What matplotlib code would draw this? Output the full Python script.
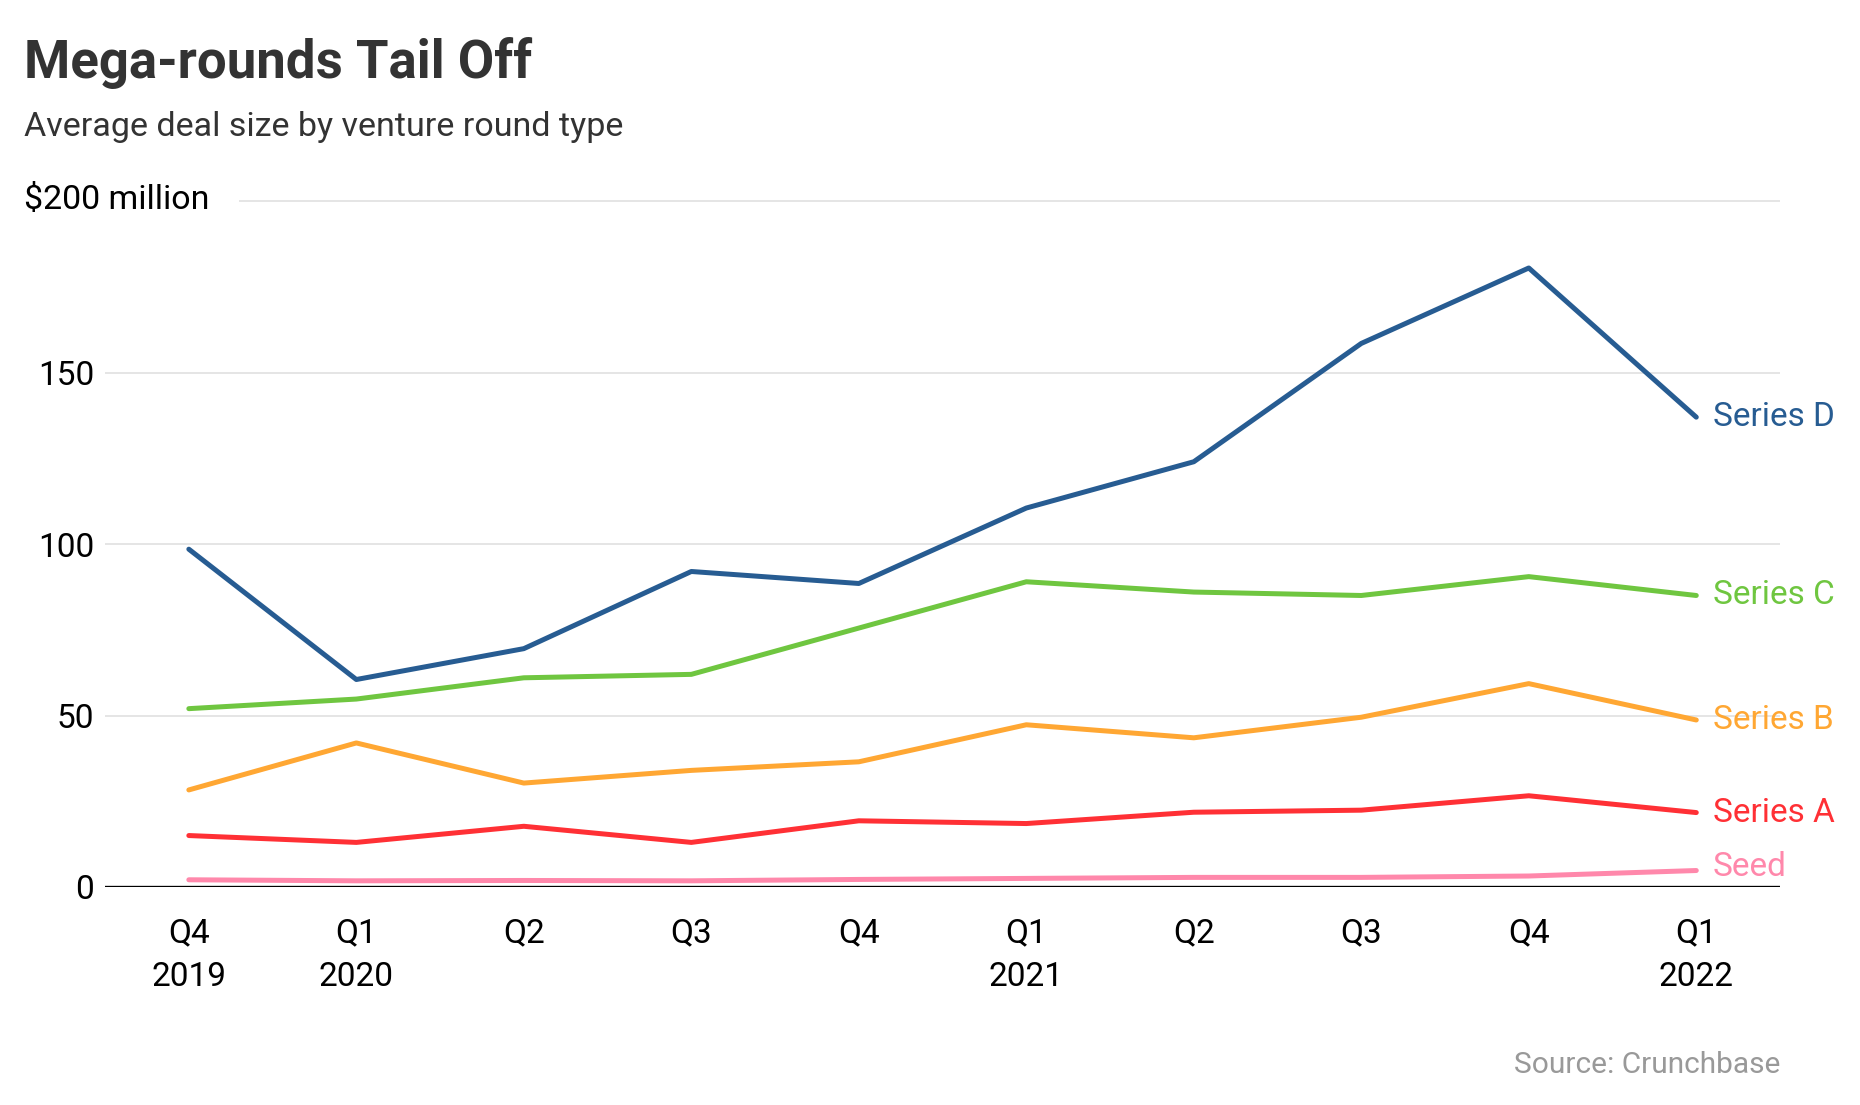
import matplotlib.pyplot as plt

plt.rcParams['font.family'] = ['Roboto', 'DejaVu Sans']

quarters = ["Q4\n2019", "Q1\n2020", "Q2", "Q3", "Q4", "Q1\n2021", "Q2", "Q3", "Q4", "Q1\n2022"]
series_d = [98.5, 60.5, 69.5, 92, 88.5, 110.5, 124, 158.5, 180.5, 137]
series_c = [52, 54.8, 61, 62, 75.5, 89, 86, 85, 90.5, 85]
series_b = [28.3, 42, 30.3, 34, 36.5, 47.3, 43.5, 49.5, 59.3, 48.7]
series_a = [15, 13, 17.7, 13, 19.3, 18.5, 21.8, 22.4, 26.6, 21.7]
seed = [2.1, 1.8, 1.9, 1.8, 2.2, 2.5, 2.8, 2.8, 3.2, 4.8]

names = ["Series D", "Series C", "Series B", "Series A", "Seed"]
colors = ["#275c92", "#6fc640", "#ffa733", "#ff3035", "#ff88ab"]
values = [series_d, series_c, series_b, series_a, seed]
label_nudge = [0, 0, 0, 0, 1.0]

fig = plt.figure(figsize=(18.6, 11.05), dpi=100)
ax = fig.add_axes([0.0565, 0.1973, 0.9005, 0.6207])

x = list(range(len(quarters)))
ax.set_xlim(-0.5, 9.5)
ax.set_ylim(0, 200)

# gridlines
for yv in [50, 100, 150]:
    ax.axhline(yv, color="#e0e0e0", lw=1.2, zorder=0)
ax.hlines(200, 0.3, 9.5, color="#e0e0e0", lw=1.2, zorder=0, clip_on=False)
ax.axhline(0, color="black", lw=2.4, zorder=3)

for name, col, vals, nud in zip(names, colors, values, label_nudge):
    ax.plot(x, vals, color=col, lw=3.6, solid_capstyle="round", zorder=4, clip_on=False)
    ax.text(9.1, vals[-1] + nud, name, color=col, fontsize=24, va="center", ha="left")

for s in ax.spines.values():
    s.set_visible(False)

ax.set_xticks(x)
ax.set_xticklabels(quarters, fontsize=24, linespacing=1.45)
ax.set_yticks([0, 50, 100, 150])
ax.set_yticklabels(["0", "50", "100", "150"], fontsize=24)
ax.tick_params(axis="x", length=0, pad=22)
ax.tick_params(axis="y", length=0, pad=8)

fig.text(24/1860, 1 - 200/1105, "$200 million", fontsize=24.5, va="center", ha="left")
fig.text(24/1860, 1 - 63/1105, "Mega-rounds Tail Off", fontsize=38, fontweight="bold",
         color="#333333", va="center", ha="left")
fig.text(24/1860, 1 - 127/1105, "Average deal size by venture round type", fontsize=24.5,
         color="#333333", va="center", ha="left")
fig.text(1780/1860, 1 - 1065/1105, "Source: Crunchbase", fontsize=21.5,
         color="#999999", va="center", ha="right")

fig.savefig("out.png", dpi=100, facecolor="white")
